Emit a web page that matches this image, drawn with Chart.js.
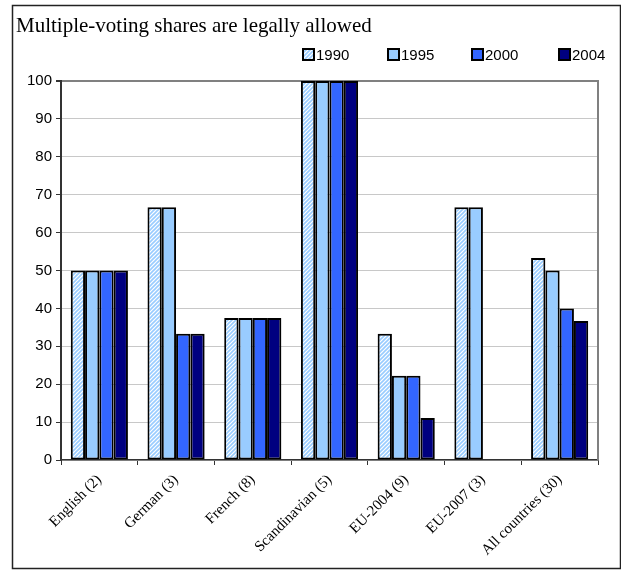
<!DOCTYPE html>
<html>
<head>
<meta charset="utf-8">
<script src="https://cdn.jsdelivr.net/npm/chart.js@4"></script>
<style>
  body { margin: 0; background: #fff; }
  #wrap { width: 621px; height: 571px; position: relative; }
</style>
</head>
<body>
<div id="wrap"><canvas id="chartVoto"></canvas></div>
<script>
const titulo = "Multiple-voting shares are legally allowed";

const grupos = [
  "English (2)",
  "German (3)",
  "French (8)",
  "Scandinavian (5)",
  "EU-2004 (9)",
  "EU-2007 (3)",
  "All countries (30)",
];

const anos = ["1990", "1995", "2000", "2004"];

const v1990 = [50, 66.7, 37.5, 100, 33.3, 66.7, 53.3];
const v1995 = [50, 66.7, 37.5, 100, 22.2, 66.7, 50];
const v2000 = [50, 33.3, 37.5, 100, 22.2, null, 40];
const v2004 = [50, 33.3, 37.5, 100, 11.1, null, 36.7];

const yTicks = [0, 10, 20, 30, 40, 50, 60, 70, 80, 90, 100];

// hachura diagonal do 1990
function hachura() {
  const c = document.createElement("canvas");
  c.width = 4;
  c.height = 4;
  const g = c.getContext("2d");
  g.fillStyle = "#ffffff";
  g.fillRect(0, 0, 4, 4);
  g.strokeStyle = "#99ccff";
  g.lineWidth = 1.6;
  g.beginPath();
  g.moveTo(-1, 5); g.lineTo(5, -1);
  g.moveTo(-1, 1); g.lineTo(1, -1);
  g.moveTo(3, 5); g.lineTo(5, 3);
  g.stroke();
  return g.createPattern(c, "repeat");
}

const cores = [hachura(), "#99ccff", "#3366ff", "#000080"];
const series = [v1990, v1995, v2000, v2004];

// moldura, título e legenda desenhados à mão
const extras = {
  id: "extras",
  beforeDraw(chart) {
    const ctx = chart.ctx;
    ctx.save();
    ctx.fillStyle = "#fff";
    ctx.fillRect(0, 0, chart.width, chart.height);
    ctx.restore();
  },
  afterDraw(chart) {
    const ctx = chart.ctx;
    const a = chart.chartArea;
    ctx.save();
    // borda direita da área do gráfico
    ctx.strokeStyle = "#808080";
    ctx.lineWidth = 2;
    ctx.beginPath();
    ctx.moveTo(a.right, a.top - 1);
    ctx.lineTo(a.right, a.bottom);
    ctx.stroke();

    // moldura externa
    ctx.strokeStyle = "#222";
    ctx.lineWidth = 1.5;
    ctx.strokeRect(12.5, 5.5, 608, 563);

    // título
    ctx.fillStyle = "#000";
    ctx.font = "21px 'Liberation Serif'";
    ctx.textBaseline = "alphabetic";
    ctx.fillText(titulo, 16, 32);

    // legenda
    const xs = [303, 388, 472, 559];
    ctx.font = "15px 'Liberation Sans'";
    ctx.textBaseline = "middle";
    chart.data.datasets.forEach((ds, i) => {
      const x = xs[i];
      ctx.fillStyle = ds.backgroundColor;
      ctx.fillRect(x, 49, 11, 11);
      ctx.strokeStyle = "#000";
      ctx.lineWidth = 2;
      ctx.strokeRect(x, 49, 11, 11);
      ctx.fillStyle = "#000";
      ctx.fillText(ds.label, x + 13, 55.5);
    });
    ctx.restore();
  },
};

const ctxVoto = document.getElementById("chartVoto").getContext("2d");
new Chart(ctxVoto, {
  type: "bar",
  data: {
    labels: grupos,
    datasets: anos.map((ano, i) => ({
      label: ano,
      data: series[i],
      backgroundColor: cores[i],
      borderColor: "#000",
      borderWidth: 2,
      borderSkipped: false,
      categoryPercentage: 0.745,
      barPercentage: 1,
    })),
  },
  options: {
    responsive: true,
    maintainAspectRatio: false,
    animation: false,
    layout: { padding: { top: 81, left: 13, right: 23, bottom: 3 } },
    plugins: {
      legend: { display: false },
      title: { display: false },
      tooltip: { enabled: false },
    },
    scales: {
      x: {
        afterFit: (s) => { s.height = 108; },
        grid: {
          offset: true,
          drawOnChartArea: false,
          tickLength: 5,
          tickColor: "#333",
        },
        border: { color: "#333", width: 1.5 },
        ticks: {
          color: "#000",
          font: { family: "'Liberation Serif'", size: 15 },
          minRotation: 45,
          maxRotation: 45,
          padding: 6,
        },
      },
      y: {
        min: 0,
        max: 100,
        afterFit: (s) => { s.width = 48; },
        afterBuildTicks: (s) => { s.ticks = yTicks.map((v) => ({ value: v })); },
        grid: {
          color: (c) => (c.tick && c.tick.value === 100 ? "#808080" : "#c8c8c8"),
          lineWidth: (c) => (c.tick && c.tick.value === 100 ? 2 : 1),
          tickColor: "#333",
          tickLength: 5,
        },
        border: { color: "#333", width: 2 },
        ticks: {
          color: "#000",
          font: { family: "'Liberation Sans'", size: 15 },
          padding: 4,
        },
      },
    },
  },
  plugins: [extras],
});
</script>
</body>
</html>
